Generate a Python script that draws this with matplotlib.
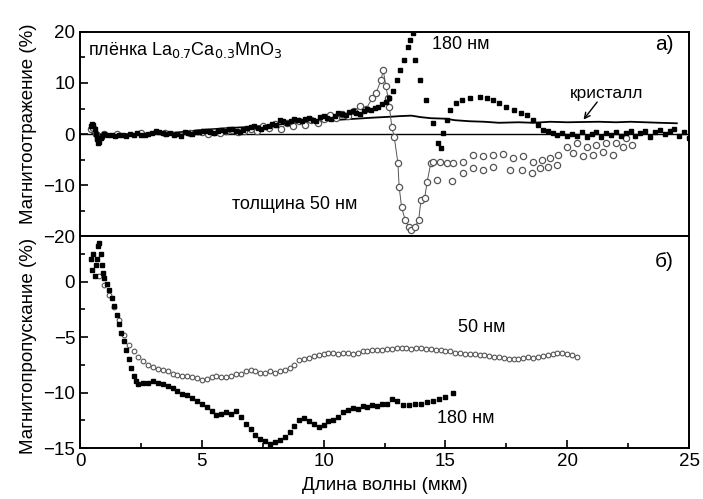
import numpy as np
import matplotlib
matplotlib.use("Agg")
import matplotlib.pyplot as plt
from matplotlib.ticker import MultipleLocator

plt.rcParams['font.family'] = ['Liberation Sans', 'DejaVu Sans']

# --- а) magneto-reflection ---
# 180 nm film (filled squares)
refl180_x = [0.45, 0.5, 0.55, 0.6, 0.65, 0.7, 0.75, 0.8, 0.85, 0.9,
             1.0, 1.15, 1.3, 1.45, 1.6, 1.75, 1.9, 2.05, 2.2, 2.35,
             2.5, 2.65, 2.8, 2.95, 3.1, 3.25, 3.4, 3.55, 3.7, 3.85,
             4.0, 4.15, 4.3, 4.45, 4.6, 4.75, 4.9, 5.05, 5.2, 5.35,
             5.5, 5.65, 5.8, 5.95, 6.1, 6.25, 6.4, 6.55, 6.7, 6.85,
             7.0, 7.15, 7.3, 7.45, 7.6, 7.75, 7.9, 8.05, 8.2, 8.35,
             8.5, 8.65, 8.8, 8.95, 9.1, 9.25, 9.4, 9.55, 9.7, 9.85,
             10.0, 10.15, 10.3, 10.45, 10.6, 10.75, 10.9, 11.05, 11.2, 11.35,
             11.5, 11.65, 11.8, 11.95, 12.1, 12.25, 12.4, 12.55, 12.7,
             12.85, 13.0, 13.15, 13.3, 13.45, 13.55, 13.65,
             13.75, 13.95, 14.2, 14.5, 14.7, 14.8, 14.9, 15.05, 15.2, 15.45, 15.7, 16.0,
             16.4, 16.7, 16.95, 17.2, 17.5, 17.8, 18.1, 18.35, 18.6, 18.8,
             19.0, 19.2, 19.4, 19.6, 19.8, 20.0, 20.2, 20.4, 20.6, 20.8,
             21.0, 21.2, 21.4, 21.6, 21.8, 22.0, 22.2, 22.4, 22.6, 22.8,
             23.0, 23.2, 23.4, 23.6, 23.8, 24.0, 24.2, 24.4, 24.6, 24.8, 25.0]
refl180_y = [1.5, 2.0, 1.8, 1.0, 0.0, -1.0, -1.8, -1.5, -0.8, -0.3,
             0.0, -0.2, -0.1, -0.3, -0.2, -0.1, -0.3, 0.0, -0.2, 0.1,
             -0.1, -0.2, 0.0, 0.2, 0.6, 0.4, 0.2, 0.0, 0.1, -0.2,
             0.0, -0.3, 0.3, 0.1, 0.0, 0.4, 0.3, 0.5, 0.6, 0.3,
             0.2, 0.5, 0.8, 0.5, 0.9, 1.0, 0.6, 0.4, 0.8, 1.1,
             1.4, 1.6, 1.1, 1.0, 1.3, 1.6, 1.9, 1.8, 2.8, 2.5,
             2.2, 2.6, 3.0, 2.7, 2.5, 2.9, 3.2, 2.8, 2.6, 3.3,
             3.5, 3.1, 3.0, 3.6, 4.2, 3.9, 3.8, 4.3, 4.5, 4.2,
             4.0, 4.6, 5.0, 4.8, 5.1, 5.3, 5.8, 6.2, 7.0,
             8.5, 10.5, 12.5, 14.5, 17.0, 18.5, 19.8,
             14.5, 10.6, 6.7, 2.1, -1.8, -2.8, 0.2, 2.8, 4.7, 6.0, 6.7, 7.0,
             7.3, 7.0, 6.7, 6.0, 5.3, 4.8, 4.1, 3.8, 2.7, 1.8,
             0.8, 0.5, 0.2, -0.2, 0.1, -0.4, 0.0, -0.3, 0.3, -0.5,
             0.0, 0.3, -0.6, 0.2, -0.2, 0.4, -0.4, 0.1, 0.5, -0.3,
             0.2, 0.6, -0.5, 0.3, 0.8, 0.0, 0.5, 1.0, -0.3, 0.4, -0.8]

# 50 nm film (open circles, joined)
refl50_x = [0.45, 0.55, 0.65, 0.75, 0.85, 1.0, 1.5, 2.5, 3.5, 4.5,
            5.0, 5.25, 5.5, 5.75, 6.0, 6.25, 6.5, 6.75, 7.0, 7.25,
            7.5, 7.75, 8.0, 8.25, 8.5, 8.75, 9.0, 9.25, 9.5, 9.75,
            10.0, 10.25, 10.5, 10.75, 11.0, 11.25, 11.5, 11.75, 12.0, 12.15,
            12.35, 12.45, 12.55, 12.65, 12.7, 12.8, 12.9, 13.05, 13.1, 13.2,
            13.35, 13.5, 13.6, 13.75, 13.9, 14.0, 14.15, 14.25, 14.4, 14.5]
refl50_y = [1.0, 1.2, 0.0, -1.0, -0.5, 0.0, 0.0, 0.1, 0.2, 0.2,
            0.3, 0.0, 0.4, 0.2, 0.5, 0.7, 0.4, 0.6, 0.9, 0.6,
            1.5, 1.1, 2.0, 1.0, 2.2, 1.6, 2.5, 1.8, 2.8, 2.2,
            3.0, 3.7, 3.2, 4.0, 3.6, 4.5, 5.5, 5.0, 7.0, 8.0,
            10.5, 12.5, 9.5, 7.0, 5.3, 1.4, -0.6, -5.7, -10.3, -14.3,
            -16.9, -18.2, -18.8, -18.2, -16.9, -12.9, -12.5, -9.4, -5.7, -5.4]

# 50 nm film, long-wave part (two scans, markers only)
refl50_tail_x = [14.78, 15.05, 15.3, 15.74, 16.15, 16.56, 16.97, 17.38, 17.79, 18.2, 18.6,
                 18.95, 19.3, 19.63, 19.98, 20.4, 20.8, 21.2, 21.6, 22.0, 22.4,
                 14.64, 15.26, 15.74, 16.15, 16.56, 16.97, 17.65, 18.13, 18.54, 18.88,
                 19.22, 19.57, 20.25, 20.66, 21.07, 21.48, 21.9, 22.3, 22.65]
refl50_tail_y = [-5.4, -5.7, -5.7, -5.4, -4.1, -4.4, -4.1, -3.9, -4.8, -4.4, -5.4,
                 -5.0, -4.8, -4.1, -2.5, -1.8, -2.5, -2.2, -1.8, -1.8, -0.8,
                 -9.0, -9.3, -7.7, -6.7, -7.1, -6.4, -7.1, -7.1, -7.7, -6.7,
                 -6.4, -6.1, -3.8, -4.4, -4.1, -3.5, -4.1, -2.5, -2.2]

# bulk crystal (solid line)
cryst_x = [0.5, 1.0, 2.0, 3.0, 4.0, 5.0, 6.2, 7.0, 8.0, 9.0, 10.3, 11.0, 12.0, 12.8, 13.1,
           13.6, 14.0, 14.4, 15.0, 15.4, 16.0, 16.6, 17.2, 18.0, 18.6, 19.3, 20.0, 20.6,
           21.3, 22.0, 22.6, 23.2, 23.8, 24.5]
cryst_y = [0.0, -0.1, 0.0, 0.1, 0.3, 0.8, 1.2, 1.4, 1.8, 2.2, 2.7, 2.9, 3.2, 3.4, 3.5,
           3.6, 3.3, 3.1, 3.0, 2.7, 2.5, 2.4, 2.2, 2.3, 2.2, 2.4, 2.3, 2.35,
           2.4, 2.3, 2.4, 2.3, 2.2, 2.1]

# --- б) magneto-transmission ---
trans180_x = [0.45, 0.5, 0.55, 0.6, 0.65, 0.7, 0.75, 0.8, 0.85, 0.9, 0.95, 1.0, 1.1, 1.2, 1.3,
              1.4, 1.5, 1.6, 1.7, 1.8, 1.9, 2.0, 2.1, 2.2, 2.3, 2.4, 2.6, 2.8, 3.0, 3.2,
              3.4, 3.6, 3.8, 4.0, 4.2, 4.4, 4.6, 4.8, 5.0, 5.2, 5.4, 5.6, 5.8, 6.0, 6.2,
              6.4, 6.6, 6.8, 7.0, 7.2, 7.4, 7.6, 7.8, 8.0, 8.2, 8.4, 8.6, 8.8, 9.0, 9.2,
              9.4, 9.6, 9.8, 10.0, 10.2, 10.4, 10.6, 10.8, 11.0, 11.2, 11.4, 11.6, 11.8,
              12.0, 12.2, 12.4, 12.6, 12.8, 13.0, 13.25, 13.5, 13.75, 14.0, 14.25, 14.5,
              14.75, 15.0, 15.3]
trans180_y = [2.0, 1.0, 2.5, 0.5, 1.5, 2.0, 3.2, 3.5, 2.5, 1.5, 0.8, 0.3, -0.2, -0.8, -1.5,
              -2.2, -3.0, -3.8, -4.6, -5.4, -6.2, -7.0, -7.8, -8.5, -9.0, -9.2, -9.1, -9.1,
              -9.0, -9.1, -9.2, -9.4, -9.6, -9.9, -10.1, -10.2, -10.5, -10.8, -11.0, -11.3,
              -11.7, -12.0, -11.9, -11.8, -11.9, -11.7, -12.2, -12.8, -13.3, -13.8, -14.2,
              -14.4, -14.6, -14.5, -14.3, -14.0, -13.6, -13.0, -12.5, -12.3, -12.6, -12.8,
              -13.1, -12.9, -12.6, -12.5, -12.2, -11.8, -11.6, -11.4, -11.5, -11.2, -11.3,
              -11.1, -11.2, -11.0, -11.0, -10.6, -10.8, -11.1, -11.1, -11.0, -11.0, -10.9,
              -10.8, -10.6, -10.4, -10.0]

trans50_x = [0.8, 1.0, 1.2, 1.4, 1.6, 1.8, 2.0, 2.2, 2.4, 2.6, 2.8, 3.0, 3.2, 3.4, 3.6, 3.8,
             4.0, 4.2, 4.4, 4.6, 4.8, 5.0, 5.2, 5.4, 5.6, 5.8, 6.0, 6.2, 6.4, 6.6, 6.8, 7.0,
             7.2, 7.4, 7.6, 7.8, 8.0, 8.2, 8.4, 8.6, 8.8, 9.0, 9.2, 9.4, 9.6, 9.8, 10.0,
             10.2, 10.4, 10.6, 10.8, 11.0, 11.2, 11.4, 11.6, 11.8, 12.0, 12.2, 12.4, 12.6,
             12.8, 13.0, 13.2, 13.4, 13.6, 13.8, 14.0, 14.2, 14.4, 14.6, 14.8, 15.0, 15.2,
             15.4, 15.6, 15.8, 16.0, 16.2, 16.4, 16.6, 16.8, 17.0, 17.2, 17.4, 17.6, 17.8,
             18.0, 18.2, 18.4, 18.6, 18.8, 19.0, 19.2, 19.4, 19.6, 19.8, 20.0, 20.2, 20.4]
trans50_y = [0.5, -0.3, -1.2, -2.3, -3.5, -4.8, -5.7, -6.3, -6.8, -7.2, -7.5, -7.7, -7.9,
             -8.0, -8.1, -8.3, -8.4, -8.5, -8.5, -8.6, -8.7, -8.9, -8.8, -8.6, -8.5, -8.6,
             -8.6, -8.5, -8.3, -8.3, -8.1, -8.0, -8.1, -8.2, -8.2, -8.1, -8.2, -8.1, -8.0,
             -7.8, -7.5, -7.1, -7.0, -6.9, -6.7, -6.6, -6.5, -6.4, -6.4, -6.5, -6.4, -6.4,
             -6.5, -6.4, -6.3, -6.3, -6.2, -6.2, -6.2, -6.1, -6.1, -6.0, -6.0, -6.0, -6.1,
             -6.0, -6.0, -6.1, -6.1, -6.2, -6.2, -6.3, -6.3, -6.4, -6.4, -6.5, -6.5, -6.5,
             -6.6, -6.6, -6.7, -6.8, -6.8, -6.9, -7.0, -7.0, -7.0, -6.9, -6.8, -6.9, -6.8,
             -6.7, -6.6, -6.5, -6.4, -6.4, -6.5, -6.6, -6.8]

fig = plt.figure(figsize=(7.03, 4.99), dpi=100)
ax1 = fig.add_axes([0.1138, 0.527, 0.8663, 0.4089])
ax2 = fig.add_axes([0.1138, 0.1022, 0.8663, 0.4248], sharex=ax1)

for ax in (ax1, ax2):
    for s in ax.spines.values():
        s.set_linewidth(1.4)
    ax.tick_params(which='both', direction='in', width=1.2, labelsize=13.5,
                   top=False, right=False)
    ax.tick_params(which='major', length=6)
    ax.tick_params(which='minor', length=3.5)
    ax.xaxis.set_major_locator(MultipleLocator(5))
    ax.xaxis.set_minor_locator(MultipleLocator(2.5))

# panel а
ax1.axhline(0, color='black', lw=1.0, zorder=1)
ax1.plot(cryst_x, cryst_y, color='black', lw=1.3, zorder=2)
ax1.plot(refl50_x, refl50_y, color='#555555', lw=0.7, marker='o', ms=4.5,
         mfc='white', mec='#555555', mew=0.9, zorder=3)
ax1.plot(refl50_tail_x, refl50_tail_y, ls='none', marker='o', ms=4.5,
         mfc='white', mec='#555555', mew=0.9, zorder=3)
ax1.plot(refl180_x, refl180_y, ls='none', marker='s', ms=3.2, color='black', zorder=4)
ax1.set_xlim(0, 25)
ax1.set_ylim(-20, 20)
ax1.yaxis.set_major_locator(MultipleLocator(10))
ax1.yaxis.set_minor_locator(MultipleLocator(5))
ax1.tick_params(axis='x', which='both', length=0, labelbottom=False)
ax1.set_ylabel('Магнитоотражение (%)', fontsize=13.5)
ax1.yaxis.set_label_coords(-0.071, 0.55)

ax1.text(0.33, 16.5, 'плёнка La$_{0.7}$Ca$_{0.3}$MnO$_3$', fontsize=13, va='center')
ax1.text(14.45, 17.5, '180 нм', fontsize=13, va='center')
ax1.text(23.6, 17.5, 'а)', fontsize=15, va='center')
ax1.text(20.1, 8.0, 'кристалл', fontsize=12.5, va='center')
ax1.annotate('', xy=(20.6, 2.4), xytext=(21.3, 6.7),
             arrowprops=dict(arrowstyle='->', color='black', lw=1.0))
ax1.text(6.24, -13.9, 'толщина 50 нм', fontsize=13, va='center')

# panel б
ax2.plot(trans50_x, trans50_y, ls='none', marker='o', ms=3.4, mfc='white',
         mec='#555555', mew=0.8, zorder=3)
ax2.plot(trans180_x, trans180_y, ls='none', marker='s', ms=3.4, color='black', zorder=4)
ax2.set_ylim(-15, 4.1)
ax2.yaxis.set_major_locator(MultipleLocator(5))
ax2.yaxis.set_minor_locator(MultipleLocator(2.5))
ax2.set_yticks([0, -5, -10, -15])
ax2.set_ylabel('Магнитопропускание (%)', fontsize=13.5)
ax2.yaxis.set_label_coords(-0.071, 0.48)
ax2.set_xlabel('Длина волны (мкм)', fontsize=13.5, labelpad=5)

ax2.text(23.6, 1.8, 'б)', fontsize=15, va='center')
ax2.text(15.5, -4.1, '50 нм', fontsize=13, va='center')
ax2.text(14.65, -12.3, '180 нм', fontsize=13, va='center')

fig.savefig('out.png', dpi=100)
